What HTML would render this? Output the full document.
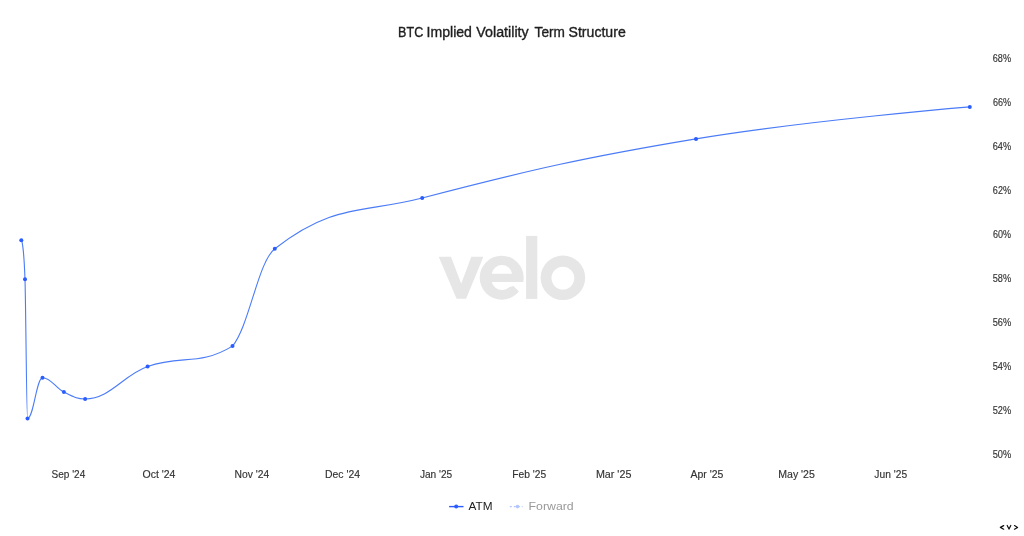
<!DOCTYPE html>
<html><head><meta charset="utf-8">
<style>
html,body{margin:0;padding:0;background:#fff;width:1024px;height:536px;overflow:hidden}
svg{display:block;will-change:transform}
text{font-family:"Liberation Sans",sans-serif}
.title{font-size:14px;fill:#1e1e1e;stroke:#1e1e1e;stroke-width:0.35px}
.yl{font-size:10.3px;stroke:#333;stroke-width:0.15px}
.xl{font-size:10.3px;stroke:#333;stroke-width:0.15px}
.lg{font-size:11.5px}
</style></head>
<body>
<svg width="1024" height="536" viewBox="0 0 1024 536">
<g fill="#e6e6e6">
<polygon points="438.7,256.7 451,256.7 461.2,283.8 471.3,256.7 483.4,256.7 466.1,298.8 456.6,298.8"/>
<circle cx="501.7" cy="277.7" r="22"/>
<rect x="526.1" y="235.9" width="11.2" height="63"/>
<circle cx="562.9" cy="277.8" r="22.3"/>
</g>
<g fill="#fff">
<circle cx="562.9" cy="278.1" r="11.4"/>
<path d="M491.71,273.7 A10.4,10.4 0 0 1 512.19,273.7 Z"/>
<path d="M491.84,281.9 A10.4,10.4 0 0 0 512.17,281.9 Z"/>
<polygon points="503,281.9 524,281.9 524,296.5 513.4,286 506,288"/>
</g>
<path d="M21.30,240.20C21.30,240.20,23.52,240.20,25.00,279.25C26.02,318.30,26.53,418.40,27.55,418.40C33.53,418.40,36.52,377.70,42.50,377.70C51.06,377.70,55.34,387.83,63.90,392.10C72.38,396.33,76.62,398.95,85.10,398.95C110.10,398.95,122.60,375.56,147.60,366.60C181.56,354.42,198.54,366.60,232.50,346.10C249.42,325.60,257.88,261.96,274.80,248.75C333.76,202.72,363.24,213.38,422.20,198.00C531.72,169.44,586.48,157.12,696.00,138.90C805.52,120.68,969.80,106.90,969.80,106.90" fill="none" stroke="#4a7bf8" stroke-width="1.1"/>
<g fill="#2a5cff"><circle cx="21.3" cy="240.2" r="2"/><circle cx="25.0" cy="279.25" r="2"/><circle cx="27.55" cy="418.4" r="2"/><circle cx="42.5" cy="377.7" r="2"/><circle cx="63.9" cy="392.1" r="2"/><circle cx="85.1" cy="398.95" r="2"/><circle cx="147.6" cy="366.6" r="2"/><circle cx="232.5" cy="346.1" r="2"/><circle cx="274.8" cy="248.75" r="2"/><circle cx="422.2" cy="198.0" r="2"/><circle cx="696.0" cy="138.9" r="2"/><circle cx="969.8" cy="106.9" r="2"/></g>
<line x1="449.1" y1="506.6" x2="463.5" y2="506.6" stroke="#2a5cff" stroke-width="1.4"/>
<circle cx="456.2" cy="506.6" r="2" fill="#2a5cff"/>
<line x1="509.8" y1="506.6" x2="522.6" y2="506.6" stroke="#b4c6ff" stroke-width="1.2" stroke-dasharray="2,2"/>
<circle cx="517.5" cy="506.6" r="1.8" fill="#b4c6ff"/>
<g fill="none" stroke="#111" stroke-width="1.2" stroke-linecap="round" stroke-linejoin="round">
<polyline points="1003.7,525.6 1000.4,527.4 1003.7,529.2"/>
<polyline points="1007.2,525.5 1009,529.1 1010.8,525.5"/>
<polyline points="1014.5,525.6 1017.6,527.4 1014.5,529.2"/>
</g>
<text x="398.11" y="36.8" class="title" fill="#1e1e1e" textLength="25.09" lengthAdjust="spacingAndGlyphs">BTC</text>
<text x="426.56" y="36.8" class="title" fill="#1e1e1e" textLength="45.39" lengthAdjust="spacingAndGlyphs">Implied</text>
<text x="476.35" y="36.8" class="title" fill="#1e1e1e" textLength="52.34" lengthAdjust="spacingAndGlyphs">Volatility</text>
<text x="534.58" y="36.8" class="title" fill="#1e1e1e" textLength="30.30" lengthAdjust="spacingAndGlyphs">Term</text>
<text x="568.56" y="36.8" class="title" fill="#1e1e1e" textLength="57.21" lengthAdjust="spacingAndGlyphs">Structure</text>
<text x="992.79" y="61.5" class="yl" fill="#333" textLength="18.29" lengthAdjust="spacingAndGlyphs">68%</text>
<text x="992.89" y="105.5" class="yl" fill="#333" textLength="18.08" lengthAdjust="spacingAndGlyphs">66%</text>
<text x="992.74" y="149.5" class="yl" fill="#333" textLength="18.37" lengthAdjust="spacingAndGlyphs">64%</text>
<text x="992.85" y="193.5" class="yl" fill="#333" textLength="18.16" lengthAdjust="spacingAndGlyphs">62%</text>
<text x="992.94" y="237.5" class="yl" fill="#333" textLength="17.99" lengthAdjust="spacingAndGlyphs">60%</text>
<text x="992.65" y="281.6" class="yl" fill="#333" textLength="18.43" lengthAdjust="spacingAndGlyphs">58%</text>
<text x="992.65" y="325.6" class="yl" fill="#333" textLength="18.43" lengthAdjust="spacingAndGlyphs">56%</text>
<text x="992.64" y="369.6" class="yl" fill="#333" textLength="18.46" lengthAdjust="spacingAndGlyphs">54%</text>
<text x="992.65" y="413.6" class="yl" fill="#333" textLength="18.43" lengthAdjust="spacingAndGlyphs">52%</text>
<text x="992.65" y="457.6" class="yl" fill="#333" textLength="18.43" lengthAdjust="spacingAndGlyphs">50%</text>
<text x="51.59" y="478.2" class="xl" fill="#333" textLength="33.69" lengthAdjust="spacingAndGlyphs">Sep '24</text>
<text x="142.53" y="478.2" class="xl" fill="#333" textLength="32.93" lengthAdjust="spacingAndGlyphs">Oct '24</text>
<text x="234.43" y="478.2" class="xl" fill="#333" textLength="34.71" lengthAdjust="spacingAndGlyphs">Nov '24</text>
<text x="324.98" y="478.2" class="xl" fill="#333" textLength="35.00" lengthAdjust="spacingAndGlyphs">Dec '24</text>
<text x="419.91" y="478.2" class="xl" fill="#333" textLength="32.34" lengthAdjust="spacingAndGlyphs">Jan '25</text>
<text x="512.32" y="478.2" class="xl" fill="#333" textLength="33.83" lengthAdjust="spacingAndGlyphs">Feb '25</text>
<text x="595.90" y="478.2" class="xl" fill="#333" textLength="35.46" lengthAdjust="spacingAndGlyphs">Mar '25</text>
<text x="690.48" y="478.2" class="xl" fill="#333" textLength="32.86" lengthAdjust="spacingAndGlyphs">Apr '25</text>
<text x="778.21" y="478.2" class="xl" fill="#333" textLength="36.67" lengthAdjust="spacingAndGlyphs">May '25</text>
<text x="874.36" y="478.2" class="xl" fill="#333" textLength="32.73" lengthAdjust="spacingAndGlyphs">Jun '25</text>
<text x="468.47" y="510.1" class="lg" fill="#222" textLength="23.99" lengthAdjust="spacingAndGlyphs">ATM</text>
<text x="528.55" y="510.3" class="lg" fill="#999" textLength="45.17" lengthAdjust="spacingAndGlyphs">Forward</text>

</svg>
</body></html>
